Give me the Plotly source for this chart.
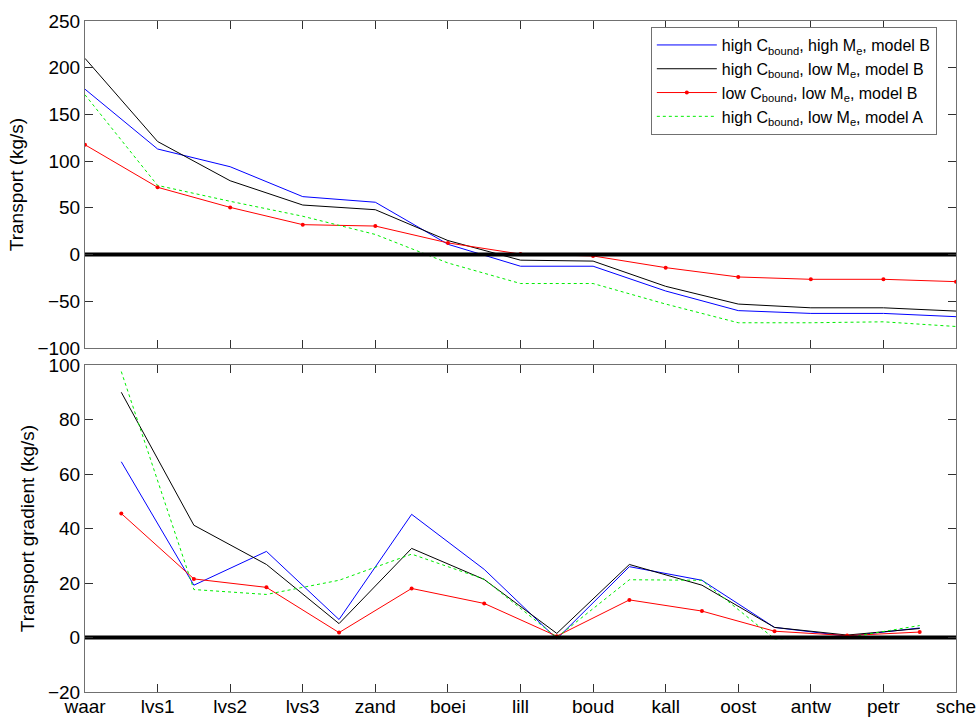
import numpy as np
import plotly.graph_objects as go
from plotly.subplots import make_subplots

stations = ['waar', 'lvs1', 'lvs2', 'lvs3', 'zand', 'boei', 'lill', 'boud',
            'kall', 'oost', 'antw', 'petr', 'sche']

# Transport (kg/s) at stations
transport_hh_B = [177, 113, 94, 62, 56, 11, -12.5, -12.5, -39, -60, -63, -63, -66.5]
transport_hl_B = [210, 121, 79, 53, 48, 15, -6, -7, -34, -53, -57, -57, -60.5]
transport_ll_B = [117.5, 72, 50.5, 32, 30.5, 12.5, 0.5, -1.5, -14, -24, -26.5, -26.5, -29]
transport_hl_A = [171, 74, 57, 41, 21.5, -9, -31, -31, -53, -73, -73, -72, -77]

# Transport gradient (kg/s) between stations
grad_hh_B = [64.5, 19.2, 31.6, 6.6, 45.2, 25, -0.5, 26, 21, 3.7, 0.5, 3.5]
grad_hl_B = [90, 41.2, 26.8, 5.1, 32.7, 21.3, 1.5, 26.8, 19.2, 3.7, 0.9, 3.3]
grad_ll_B = [45.5, 21.5, 18.4, 1.8, 18, 12.5, 0.5, 13.8, 9.7, 2.3, 0.7, 2]
grad_hl_A = [97.6, 17.6, 15.8, 21, 30.6, 21.4, 0, 21.2, 21, -0.5, 0, 4.4]

names = ['high C<sub>bound</sub>, high M<sub>e</sub>, model B',
         'high C<sub>bound</sub>, low M<sub>e</sub>, model B',
         'low C<sub>bound</sub>, low M<sub>e</sub>, model B',
         'high C<sub>bound</sub>, low M<sub>e</sub>, model A']

x_st = np.arange(len(stations))
x_mid = x_st[:-1] + 0.5

FONT = 'Liberation Sans, Arial, Helvetica, sans-serif'

fig = make_subplots(rows=2, cols=1, vertical_spacing=0.0254)

styles = [
    dict(color='#0000ff', width=1, dash='solid'),
    dict(color='#000000', width=1, dash='solid'),
    dict(color='#ff0000', width=1, dash='solid'),
    dict(color='#00ee00', width=1, dash='dot'),
]
modes = ['lines', 'lines', 'lines+markers', 'lines']

top_series = [transport_hh_B, transport_hl_B, transport_ll_B, transport_hl_A]
bot_series = [grad_hh_B, grad_hl_B, grad_ll_B, grad_hl_A]

for i in range(4):
    fig.add_trace(go.Scatter(x=x_st, y=top_series[i], mode=modes[i], name=names[i],
                             line=styles[i], marker=dict(size=4, color='#ff0000'),
                             showlegend=True), row=1, col=1)
for i in range(4):
    fig.add_trace(go.Scatter(x=x_mid, y=bot_series[i], mode=modes[i], name=names[i],
                             line=styles[i], marker=dict(size=4, color='#ff0000'),
                             showlegend=False), row=2, col=1)

# thick zero lines drawn on top
for r in (1, 2):
    fig.add_trace(go.Scatter(x=[x_st[0], x_st[-1]], y=[0, 0], mode='lines',
                             line=dict(color='black', width=4), showlegend=False,
                             hoverinfo='skip'), row=r, col=1)

axis_common = dict(showline=True, linecolor='#707070', linewidth=1, mirror='ticks',
                   ticks='inside', ticklen=8, tickcolor='#303030', showgrid=False,
                   zeroline=False, automargin=False,
                   tickfont=dict(family=FONT, size=19, color='black'))

fig.update_xaxes(range=[0, 12], tickvals=list(x_st), ticktext=stations, **axis_common)
fig.update_xaxes(showticklabels=False, row=1, col=1)
fig.update_xaxes(ticklabelstandoff=-3, row=2, col=1)
fig.update_yaxes(**axis_common)
fig.update_yaxes(range=[-100, 250], tickvals=list(range(-100, 251, 50)), row=1, col=1,
                 title=dict(text='Transport (kg/s)', standoff=8,
                            font=dict(family=FONT, size=19, color='black')))
fig.update_yaxes(range=[-20, 100], tickvals=list(range(-20, 101, 20)), row=2, col=1,
                 title=dict(text='Transport gradient (kg/s)', standoff=8,
                            font=dict(family=FONT, size=19, color='black')))

fig.update_layout(
    width=977, height=718,
    margin=dict(l=85, r=21, t=21, b=26, autoexpand=False),
    paper_bgcolor='white', plot_bgcolor='white',
    font=dict(family=FONT, size=19, color='black'),
    legend=dict(x=0.978, y=0.991, xanchor='right', yanchor='top',
                bgcolor='white', bordercolor='#707070', borderwidth=1,
                font=dict(family=FONT, size=16, color='black'),
                itemwidth=60, tracegroupgap=0),
)

fig.write_html('out.html')
